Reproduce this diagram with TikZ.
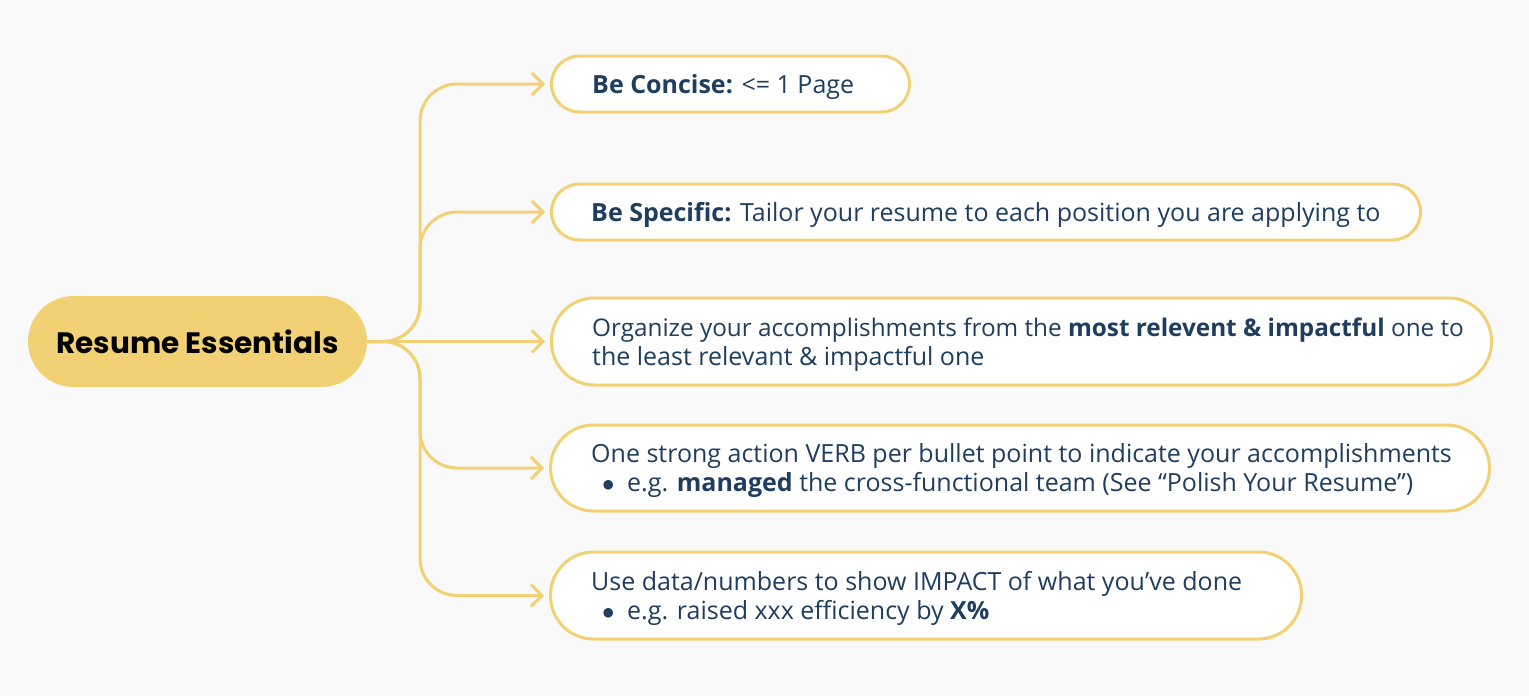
\documentclass[tikz,border=0pt]{standalone}
\usepackage{fontspec}
\setmainfont{Open Sans}
\newfontfamily\rootfont{Poppins}
\usetikzlibrary{arrows.meta}
\definecolor{bg}{HTML}{F9F9F9}
\definecolor{gold}{HTML}{F2D175}
\definecolor{navy}{HTML}{1F3D5E}
\newcommand\bul{\makebox[36pt][l]{\hspace{11pt}$\bullet$}}
\begin{document}
\begin{tikzpicture}[x=1pt,y=-1pt,
  pill/.style={draw=gold, line width=3pt, fill=white, rounded corners=#1, inner sep=0pt, anchor=west},
  txt/.style={anchor=base west, inner sep=0pt, text=navy, font=\fontsize{25}{29}\selectfont},
  conn/.style={draw=gold, line width=3pt, rounded corners=37pt, -{Straight Barb[length=11pt,width=22pt]}, shorten >=5pt}
]
\useasboundingbox[fill=bg] (0,0) rectangle (1529,696);
\node[fill=gold, rounded corners=45.5pt, minimum width=339pt, minimum height=91pt, inner sep=0pt,
  font=\rootfont\bfseries\fontsize{29.5}{32}\selectfont, text=black] (root) at (197.5,341.5) {Resume Essentials};
\coordinate (tr) at (420,341.5);
\node[pill=28pt, minimum width=358pt, minimum height=56pt] (b1) at (550,84) {};
\node[pill=28pt, minimum width=869pt, minimum height=56pt] (b2) at (550,212) {};
\node[pill=43pt, minimum width=940pt, minimum height=87pt] (b3) at (550,341.5) {};
\node[pill=43pt, minimum width=939pt, minimum height=86pt] (b4) at (549,468) {};
\node[pill=43pt, minimum width=751pt, minimum height=87pt] (b5) at (549,595.5) {};
\node[txt] (t1) at (592,93) {\textbf{Be Concise:} <= 1 Page};
\node[txt] (t2) at (591,221) {\textbf{Be Specific:} Tailor your resume to each position you are applying to};
\node[txt, font=\fontsize{24.3}{29}\selectfont] (t3a) at (592,336) {Organize your accomplishments from the \textbf{most relevent \& impactful} one to};
\node[txt] (t3b) at (592,365) {the least relevant \& impactful one};
\node[txt] (t4a) at (591,462.5) {One strong action VERB per bullet point to indicate your accomplishments};
\node[txt] (t4b) at (591,491.5) {\bul e.g. \textbf{managed} the cross-functional team (See “Polish Your Resume”)};
\node[txt] (t5a) at (591,590) {Use data/numbers to show IMPACT of what you’ve done};
\node[txt] (t5b) at (591,619) {\bul e.g. raised xxx efficiency by \textbf{X\%}};
\draw[conn] (root.east) -- (tr) |- (b1.west);
\draw[conn] (root.east) -- (tr) |- (b2.west);
\draw[conn] (root.east) -- (b3.west);
\draw[conn] (root.east) -- (tr) |- (b4.west);
\draw[conn] (root.east) -- (tr) |- (b5.west);
\end{tikzpicture}
\end{document}
